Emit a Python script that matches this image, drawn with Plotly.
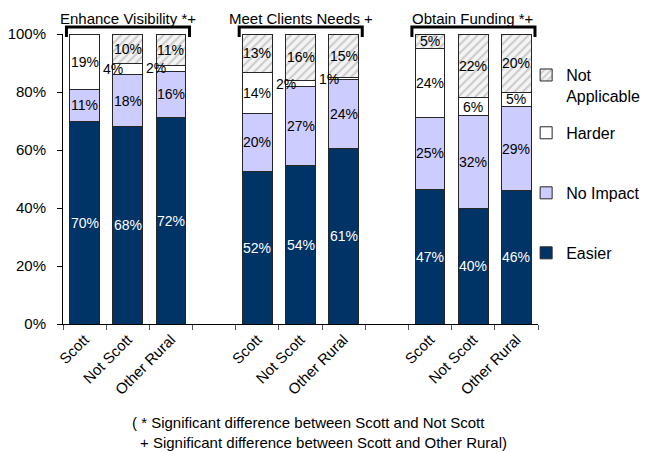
import plotly.graph_objects as go

# ---- data ----
groups = ["Enhance Visibility *+", "Meet Clients Needs +", "Obtain Funding *+"]
segments = ["Scott", "Not Scott", "Other Rural"]
x_pos = [0, 1, 2, 4, 5, 6, 8, 9, 10]
x_labels = segments * 3

easier = [70, 68, 72, 52, 54, 61, 47, 40, 46]
no_impact = [11, 18, 16, 20, 27, 24, 25, 32, 29]
harder = [19, 4, 2, 14, 2, 1, 24, 6, 5]
not_applicable = [0, 10, 11, 13, 16, 15, 5, 22, 20]

series = [
    ("Easier", easier),
    ("No Impact", no_impact),
    ("Harder", harder),
    ("Not Applicable", not_applicable),
]

FONT = "Liberation Sans, Arial, sans-serif"
colors = {"Easier": "#003366", "No Impact": "#CCCCFF", "Harder": "#FFFFFF", "Not Applicable": "#EDEDED"}
legend_ids = {"Not Applicable": "legend", "Harder": "legend2", "No Impact": "legend3", "Easier": "legend4"}
legend_names = {"Not Applicable": "Not<br>Applicable"}

fig = go.Figure()
for name, vals in series:
    marker = dict(color=colors[name], line=dict(color="#262626", width=1))
    if name == "Not Applicable":
        marker["pattern"] = dict(shape="/", fgcolor="#A0A0A0", bgcolor="#F4F4F4", size=6, solidity=0.35)
    fig.add_trace(go.Bar(
        x=x_pos, y=vals, name=legend_names.get(name, name), marker=marker,
        width=0.69, legend=legend_ids[name], hoverinfo="skip",
    ))

# ---- data labels (centered in each normalized segment) ----
annotations = []
totals = [sum(v[i] for _, v in series) for i in range(len(x_pos))]
for i, xp in enumerate(x_pos):
    cum = 0.0
    for name, vals in series:
        v = vals[i]
        h = v * 100.0 / totals[i]
        if v > 0:
            small = v <= 4
            annotations.append(dict(
                x=xp, y=cum + h / 2, xref="x", yref="y", text=f"{v}%", showarrow=False,
                font=dict(family=FONT, size=14, color="white" if name == "Easier" else "black"),
                xshift=-15 if small else 0,
            ))
        cum += h

# ---- group titles and brackets ----
shapes = []
for g, title in enumerate(groups):
    first = x_pos[g * 3]
    last = x_pos[g * 3 + 2]
    x0 = first - 0.42
    x1 = last + 0.43
    annotations.append(dict(
        x=(first + last) / 2, y=1.052, xref="x", yref="paper", text=title, showarrow=False,
        font=dict(family=FONT, size=15, color="black"), yanchor="middle",
    ))
    shapes.append(dict(type="path", xref="x", yref="paper",
                       path=f"M {x0} 0.99 L {x0} 1.024 L {x1} 1.024 L {x1} 0.99",
                       line=dict(color="black", width=3)))

# ---- footnote ----
annotations.append(dict(x=0.141, y=-0.338, xref="paper", yref="paper", xanchor="left", yanchor="middle",
                        text="( * Significant difference between Scott and Not Scott", showarrow=False,
                        font=dict(family=FONT, size=15, color="black")))
annotations.append(dict(x=0.158, y=-0.41, xref="paper", yref="paper", xanchor="left", yanchor="middle",
                        text="+ Significant difference between Scott and Other Rural)", showarrow=False,
                        font=dict(family=FONT, size=15, color="black")))

leg_common = dict(font=dict(family=FONT, size=16, color="black"), bgcolor="rgba(0,0,0,0)",
                  xanchor="left", x=0.975, valign="top", itemclick=False)

fig.update_layout(
    barmode="stack", barnorm="percent",
    width=645, height=452,
    margin=dict(l=63, r=107, t=34, b=128, autoexpand=False),
    paper_bgcolor="white", plot_bgcolor="white",
    font=dict(family=FONT, size=15, color="black"),
    showlegend=True,
    legend=dict(**leg_common, y=0.917, yanchor="top"),
    legend2=dict(**leg_common, y=0.659, yanchor="middle"),
    legend3=dict(**leg_common, y=0.452, yanchor="middle"),
    legend4=dict(**leg_common, y=0.245, yanchor="middle"),
    xaxis=dict(
        range=[-0.5, 10.5], tickmode="array", tickvals=x_pos, ticktext=x_labels,
        tickangle=-45, ticks="", showline=True, linecolor="black", linewidth=1,
        showgrid=False, zeroline=False, tickfont=dict(family=FONT, size=15, color="black"),
        minor=dict(tickmode="array", tickvals=[i - 0.5 for i in range(12)], ticks="outside",
                   ticklen=5, tickcolor="#555555", tickwidth=1, showgrid=False),
        fixedrange=True, automargin=False,
    ),
    yaxis=dict(
        range=[0, 100], tickmode="array", tickvals=[0, 20, 40, 60, 80, 100],
        ticktext=["0%", "20%", "40%", "60%", "80%", "100%"],
        ticks="outside", ticklen=5, tickcolor="black", showline=True, linecolor="black", linewidth=1,
        showgrid=False, zeroline=False, tickfont=dict(family=FONT, size=15, color="black"),
        ticklabelstandoff=8, fixedrange=True, automargin=False,
    ),
    annotations=annotations,
    shapes=shapes,
    bargap=0.3,
)

fig.write_html(
    "out.html",
    config={"displayModeBar": False},
    post_script="document.body.style.margin='0px';document.body.style.padding='0px';",
)
